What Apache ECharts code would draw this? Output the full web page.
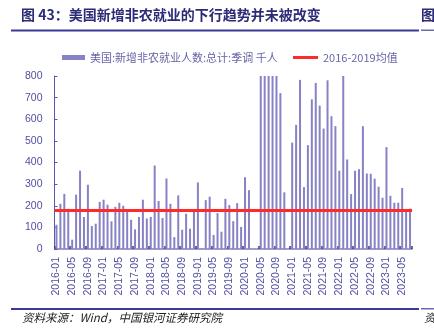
<!DOCTYPE html>
<html>
<head>
<meta charset="utf-8">
<script src="https://cdn.jsdelivr.net/npm/echarts@6/dist/echarts.min.js"></script>
<style>
  html, body { margin: 0; padding: 0; background: #fff; }
  #chart { width: 434px; height: 330px; }
</style>
</head>
<body>
<div id="chart"></div>
<script>
// US nonfarm payrolls, monthly change, seasonally adjusted (thousands)
const payrolls2016 = [112, 209, 255, 186, 43, 251, 362, 148, 297, 106, 117, 218];
const payrolls2017 = [228, 205, 128, 195, 214, 200, 177, 135, 91, 148, 228, 141];
const payrolls2018 = [148, 386, 222, 143, 326, 209, 55, 248, 89, 163, 94, 174];
const payrolls2019 = [308, 2, 226, 242, 65, 166, 80, 232, 203, 129, 212, 102];
const payrolls2020 = [332, 272, -1373, -20477, 2725, 4505, 1585, 1726, 866, 721, 262, -306];
const payrolls2021 = [492, 574, 782, 286, 480, 692, 768, 663, 557, 780, 614, 568];
const payrolls2022 = [362, 904, 414, 254, 362, 369, 568, 349, 348, 325, 288, 237];
const payrolls2023 = [471, 246, 214, 214, 282, 185, 187];

const payrolls = [].concat(payrolls2016, payrolls2017, payrolls2018, payrolls2019,
  payrolls2020, payrolls2021, payrolls2022, payrolls2023);

// month labels 2016-01 ... 2023-07
const months = [];
for (let i = 0; i < payrolls.length; i++) {
  const y = 2016 + Math.floor(i / 12);
  const m = (i % 12) + 1;
  months.push(y + '-' + (m < 10 ? '0' + m : m));
}

// 2016-2019 average
const base = [].concat(payrolls2016, payrolls2017, payrolls2018, payrolls2019);
const avg2016to2019 = Math.round(base.reduce((a, b) => a + b, 0) / base.length);

const yTicks = [0, 100, 200, 300, 400, 500, 600, 700, 800];

const barName = '美国:新增非农就业人数:总计:季调 千人';
const avgName = '2016-2019均值';

const numFont = '"Liberation Sans", Arial, "Noto Sans CJK SC", sans-serif';
const cjkFont = '"Noto Sans CJK SC", "Liberation Sans", sans-serif';
const navy = '#2b2b78';
const axisPurple = '#504fa0';
const legendText = { fontSize: 11, color: '#6565a8', fontFamily: cjkFont };

const chart = echarts.init(document.getElementById('chart'), null, { renderer: 'canvas' });

chart.setOption({
  animation: false,
  backgroundColor: '#fff',
  grid: { left: 54.5, right: 22, top: 76, bottom: 81, containLabel: false },
  legend: [
    {
      left: 57, top: 47,
      itemWidth: 23, itemHeight: 5, itemGap: 4,
      textStyle: legendText,
      data: [{ name: barName, icon: 'rect' }]
    },
    {
      left: 288, top: 47,
      itemWidth: 25, itemHeight: 3, itemGap: 4,
      textStyle: legendText,
      data: [{ name: avgName, icon: 'rect' }]
    }
  ],
  xAxis: {
    type: 'category',
    data: months,
    boundaryGap: true,
    axisLine: { show: true, lineStyle: { color: '#807cc0', width: 1.5 } },
    axisTick: { show: true, inside: true, interval: 3, length: 3, lineStyle: { color: '#35358a', width: 1.5 } },
    axisLabel: {
      interval: 3,
      rotate: 90,
      margin: 8,
      fontSize: 10.5,
      color: axisPurple,
      fontFamily: numFont
    },
    splitLine: { show: false }
  },
  yAxis: {
    type: 'value',
    min: yTicks[0],
    max: yTicks[yTicks.length - 1],
    interval: 100,
    axisLine: { show: true, lineStyle: { color: '#5a58a8', width: 1 } },
    axisTick: { show: true, inside: true, length: 3, lineStyle: { color: '#5a58a8' } },
    axisLabel: { fontSize: 10.5, margin: 12, color: axisPurple, fontFamily: numFont },
    splitLine: { show: false }
  },
  series: [
    {
      name: barName,
      type: 'bar',
      data: payrolls,
      barWidth: 2,
      clip: true,
      itemStyle: { color: '#8682c4' },
      z: 2
    },
    {
      name: avgName,
      type: 'line',
      data: [],
      symbol: 'none',
      lineStyle: { color: '#ff2a2a', width: 3 },
      itemStyle: { color: '#ff2a2a' },
      markLine: {
        silent: true,
        symbol: ['none', 'none'],
        label: { show: false },
        lineStyle: { color: '#ff2a2a', width: 3, type: 'solid' },
        data: [{ yAxis: avg2016to2019 }]
      },
      z: 3
    }
  ],
  graphic: [
    {
      type: 'text', left: 21, top: 8,
      style: {
        text: '图 43：美国新增非农就业的下行趋势并未被改变',
        font: 'bold 14px "Noto Sans CJK SC", sans-serif',
        fill: navy
      }
    },
    {
      type: 'text', left: 421, top: 8,
      style: { text: '图', font: 'bold 14px "Noto Sans CJK SC", sans-serif', fill: navy }
    },
    {
      type: 'rect', shape: { x: 11, y: 29.5, width: 408, height: 2 },
      style: { fill: '#3a3a9a' }
    },
    {
      type: 'rect', shape: { x: 421, y: 29.5, width: 13, height: 1.5 },
      style: { fill: '#6a6ab0' }
    },
    {
      type: 'rect', shape: { x: 11, y: 308, width: 408, height: 2 },
      style: { fill: '#3a3a9a' }
    },
    {
      type: 'rect', shape: { x: 421, y: 308, width: 13, height: 1.5 },
      style: { fill: '#6a6ab0' }
    },
    {
      type: 'text', left: 22, top: 312,
      style: {
        text: '资料来源：Wind，中国银河证券研究院',
        font: 'italic 11.5px "Noto Sans CJK SC", serif',
        fill: '#222'
      }
    },
    {
      type: 'text', left: 424, top: 312,
      style: { text: '资', font: 'italic 11.5px "Noto Sans CJK SC", serif', fill: '#222' }
    }
  ]
});
</script>
</body>
</html>
